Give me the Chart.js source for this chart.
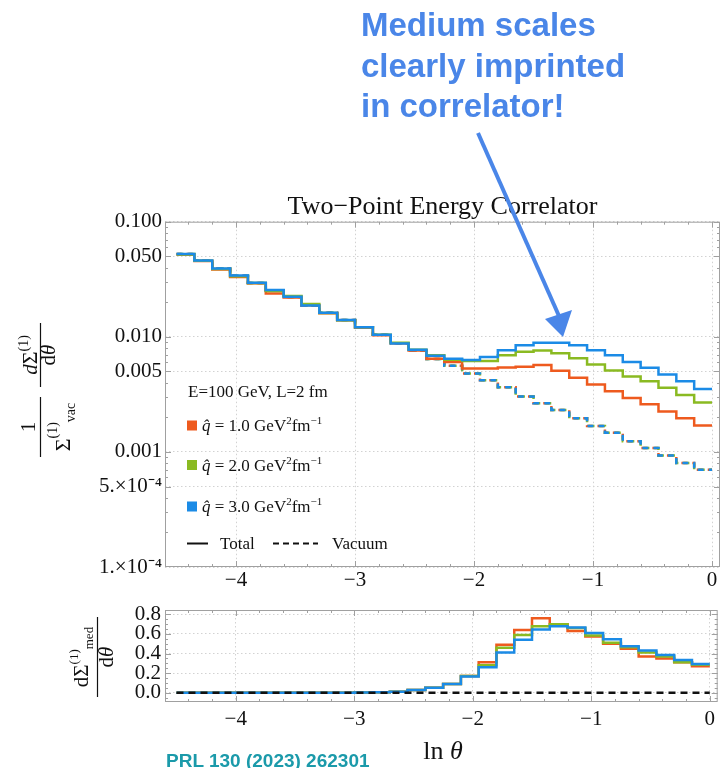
<!DOCTYPE html>
<html>
<head>
<meta charset="utf-8">
<title>Two-Point Energy Correlator</title>
<script src="https://cdn.jsdelivr.net/npm/chart.js@4.4.1/dist/chart.umd.min.js"></script>
<style>
  html, body { margin: 0; padding: 0; background: #fff; }
  #page { position: relative; width: 720px; height: 768px; overflow: hidden; }
  canvas { position: absolute; left: 0; }
  #topChart { top: 0; }
  #bottomChart { top: 590px; }
  #note { position: absolute; left: 361px; top: 5px; margin: 0; font: bold 33px 'Liberation Sans', Arial, sans-serif; line-height: 40.7px; color: #4a86e8; }
  #arrow { position: absolute; left: 0; top: 0; }
  #xTitle { position: absolute; left: 343px; top: 736px; width: 200px; text-align: center; font: 26px 'Liberation Serif', serif; line-height: 30px; color: #111; }
  #cite { position: absolute; left: 166px; top: 751px; font: bold 19px 'Liberation Sans', Arial, sans-serif; line-height: 19px; color: #1b9aaa; white-space: nowrap; }
</style>
</head>
<body>
<div id="page">
  <canvas id="topChart" width="720" height="600"></canvas>
  <canvas id="bottomChart" width="720" height="150"></canvas>
  <div id="note">Medium scales<br>clearly imprinted<br>in correlator!</div>
  <svg id="arrow" width="720" height="400">
    <line x1="478" y1="133" x2="559" y2="316" stroke="#4a86e8" stroke-width="4"/>
    <polygon points="563,337 545,319 572,310" fill="#4a86e8"/>
  </svg>
  <div id="xTitle">ln <i>θ</i></div>
  <div id="cite">PRL 130 (2023) 262301</div>
</div>
<script>
// bin edges in ln(theta), 30 bins of width 0.15
const lnThetaEdges = [-4.5, -4.35, -4.2, -4.05, -3.9, -3.75, -3.6, -3.45, -3.3, -3.15,
	-3.0, -2.85, -2.7, -2.55, -2.4, -2.25, -2.1, -1.95, -1.8, -1.65,
	-1.5, -1.35, -1.2, -1.05, -0.9, -0.75, -0.6, -0.45, -0.3, -0.15, 0];
const qhatLabels = ['1.0', '2.0', '3.0'];

// upper panel: normalised correlator (total, per qhat) and vacuum
const totalQ1 = [0.0515, 0.0455, 0.0385, 0.0330, 0.0292, 0.0238, 0.0220, 0.0188, 0.0160, 0.0139,
	0.0120, 0.0103, 0.0088, 0.0076, 0.00645, 0.00604, 0.00530, 0.00530, 0.00540, 0.00548,
	0.00568, 0.00508, 0.00440, 0.00385, 0.00336, 0.00294, 0.00260, 0.00224, 0.00196, 0.00170];
const totalQ2 = [0.0520, 0.0458, 0.0388, 0.0336, 0.0293, 0.0250, 0.0226, 0.0193, 0.0161, 0.0139,
	0.0121, 0.0104, 0.0089, 0.0077, 0.00690, 0.00632, 0.00616, 0.00616, 0.00690, 0.00740,
	0.00760, 0.00720, 0.00650, 0.00576, 0.00510, 0.00452, 0.00411, 0.00360, 0.00312, 0.00269];
const totalQ3 = [0.0525, 0.0461, 0.0393, 0.0341, 0.0295, 0.0255, 0.0223, 0.0187, 0.0162, 0.0140,
	0.0121, 0.0104, 0.00874, 0.00770, 0.00685, 0.00645, 0.00630, 0.00668, 0.00764, 0.00845,
	0.00886, 0.00890, 0.00845, 0.00764, 0.00690, 0.00604, 0.00538, 0.00471, 0.00411, 0.00352];
const vacuum = [0.0525, 0.0460, 0.0392, 0.0340, 0.0294, 0.0254, 0.0222, 0.0187, 0.0162, 0.0140,
	0.0121, 0.0104, 0.0088, 0.0076, 0.0064, 0.0056, 0.0048, 0.0042, 0.00364, 0.00303,
	0.00265, 0.00231, 0.00196, 0.00168, 0.00147, 0.00124, 0.00108, 0.00093, 0.00080, 0.00070];

// lower panel: medium part
const medQ1 = [0, 0, 0, 0, 0, 0, 0, 0, 0, 0,
	0.002, 0.004, 0.01, 0.028, 0.05, 0.09, 0.17, 0.31, 0.49, 0.64,
	0.76, 0.70, 0.63, 0.575, 0.50, 0.45, 0.37, 0.35, 0.31, 0.27];
const medQ2 = [0, 0, 0, 0, 0, 0, 0, 0, 0, 0,
	0.002, 0.004, 0.01, 0.028, 0.05, 0.09, 0.17, 0.28, 0.46, 0.59,
	0.68, 0.70, 0.66, 0.585, 0.51, 0.465, 0.41, 0.37, 0.31, 0.285];
const medQ3 = [0, 0, 0, 0, 0, 0, 0, 0, 0, 0,
	0.002, 0.004, 0.01, 0.028, 0.05, 0.09, 0.165, 0.26, 0.41, 0.54,
	0.645, 0.68, 0.665, 0.61, 0.545, 0.475, 0.43, 0.385, 0.335, 0.293];
const medVacuum = [0, 0, 0, 0, 0, 0, 0, 0, 0, 0,
	0, 0, 0, 0, 0, 0, 0, 0, 0, 0,
	0, 0, 0, 0, 0, 0, 0, 0, 0, 0];

const xTickValues = [-4, -3, -2, -1, 0];
const topYTickValues = [1e-4, 5e-4, 0.001, 0.005, 0.01, 0.05, 0.1];
const topYTickLabels = ['1.\u00d710\u207b\u2074', '5.\u00d710\u207b\u2074', '0.001', '0.005', '0.010', '0.050', '0.100'];
const bottomYTickValues = [0, 0.2, 0.4, 0.6, 0.8];
const bottomYTickLabels = ['0.0', '0.2', '0.4', '0.6', '0.8'];

const serif = "'Liberation Serif', 'Times New Roman', serif";
const colQ1 = '#ee5a1e';
const colQ2 = '#8aba22';
const colQ3 = '#1b8be6';
const frameColor = '#a0a0a0';
const gridColor = '#d2d2d2';
const textColor = '#111';

function histPoints(values) {
	const pts = values.map((v, i) => ({ x: lnThetaEdges[i], y: v }));
	pts.push({ x: lnThetaEdges[values.length], y: values[values.length - 1] });
	return pts;
}

function histLine(values, color, dash = [], dashOffset = 0) {
	return {
		data: histPoints(values),
		borderColor: color,
		borderWidth: 2.5,
		stepped: 'before',
		pointRadius: 0,
		fill: false,
		borderDash: dash,
		borderDashOffset: dashOffset,
	};
}

// small inward tick marks, like the original frame
const xMinorTicks = [];
for (let k = -22; k <= 0; k++) xMinorTicks.push({ v: k / 5, major: k % 5 === 0 });
const topYMinorTicks = [{ v: 0.1, major: true }];
for (let e = -4; e <= -2; e++) {
	for (let m = 1; m <= 9; m++) topYMinorTicks.push({ v: m * Math.pow(10, e), major: m === 1 || m === 5 });
}
const bottomYMinorTicks = [];
for (let k = -1; k <= 16; k++) bottomYMinorTicks.push({ v: k * 0.05, major: k % 4 === 0 });

function drawFrame(chart, xMarks, yMarks) {
	const { ctx, chartArea: a, scales } = chart;
	ctx.save();
	ctx.strokeStyle = frameColor;
	ctx.lineWidth = 1;
	ctx.strokeRect(a.left + 0.5, a.top + 0.5, a.right - a.left - 1, a.bottom - a.top - 1);
	ctx.beginPath();
	xMarks.forEach((t) => {
		const px = Math.round(scales.x.getPixelForValue(t.v)) + 0.5;
		const len = t.major ? 6 : 3;
		ctx.moveTo(px, a.bottom); ctx.lineTo(px, a.bottom - len);
		ctx.moveTo(px, a.top); ctx.lineTo(px, a.top + len);
	});
	yMarks.forEach((t) => {
		const py = Math.round(scales.y.getPixelForValue(t.v)) + 0.5;
		if (py < a.top || py > a.bottom) return;
		const len = t.major ? 6 : 3;
		ctx.moveTo(a.left, py); ctx.lineTo(a.left + len, py);
		ctx.moveTo(a.right, py); ctx.lineTo(a.right - len, py);
	});
	ctx.stroke();
	ctx.restore();
}

function drawRuns(ctx, x, y, runs) {
	runs.forEach((r) => {
		ctx.font = r.font;
		ctx.fillText(r.text, x, y + (r.dy || 0));
		x += ctx.measureText(r.text).width;
	});
	return x;
}

function centeredRuns(ctx, u, v, runs) {
	let w = 0;
	runs.forEach((r) => { ctx.font = r.font; w += ctx.measureText(r.text).width; });
	drawRuns(ctx, u - w / 2, v, runs);
}

function drawLegend(ctx, a) {
	const x0 = a.left + 22;
	ctx.save();
	ctx.textAlign = 'left';
	ctx.textBaseline = 'alphabetic';
	ctx.fillStyle = textColor;
	ctx.font = `17px ${serif}`;
	ctx.fillText('E=100 GeV, L=2 fm', x0 + 1, 397);

	const rowsY = [425.5, 465, 506.5];
	[colQ1, colQ2, colQ3].forEach((c, i) => {
		ctx.fillStyle = c;
		ctx.fillRect(x0, rowsY[i] - 5, 10, 10);
		ctx.fillStyle = textColor;
		drawRuns(ctx, x0 + 15, rowsY[i] + 5.5, [
			{ text: 'q\u0302', font: `italic 17px ${serif}` },
			{ text: ` = ${qhatLabels[i]} GeV`, font: `17px ${serif}` },
			{ text: '2', font: `11px ${serif}`, dy: -7 },
			{ text: 'fm', font: `17px ${serif}` },
			{ text: '\u22121', font: `11px ${serif}`, dy: -7 },
		]);
	});

	const ty = 543.5;
	ctx.strokeStyle = textColor;
	ctx.lineWidth = 2;
	ctx.beginPath(); ctx.moveTo(x0, ty); ctx.lineTo(x0 + 21, ty); ctx.stroke();
	ctx.setLineDash([6, 4]);
	ctx.beginPath(); ctx.moveTo(x0 + 86, ty); ctx.lineTo(x0 + 131, ty); ctx.stroke();
	ctx.setLineDash([]);
	ctx.font = `17px ${serif}`;
	ctx.fillText('Total', x0 + 33, ty + 5.5);
	ctx.fillText('Vacuum', x0 + 145, ty + 5.5);
	ctx.restore();
}

function drawTopYTitle(ctx) {
	ctx.save();
	ctx.translate(40, 390);
	ctx.rotate(-Math.PI / 2);
	ctx.fillStyle = textColor;
	ctx.strokeStyle = textColor;
	ctx.lineWidth = 1.2;
	ctx.textAlign = 'left';
	ctx.textBaseline = 'alphabetic';
	ctx.beginPath();
	ctx.moveTo(-67, 0.5); ctx.lineTo(-7, 0.5);
	ctx.moveTo(3, 0.5); ctx.lineTo(67, 0.5);
	ctx.stroke();
	centeredRuns(ctx, -37, -5, [{ text: '1', font: `21px ${serif}` }]);
	centeredRuns(ctx, -37, 30, [
		{ text: '\u03a3', font: `22px ${serif}` },
		{ text: '(1)', font: `14px ${serif}`, dy: -13 },
		{ text: 'vac', font: `14px ${serif}`, dy: 5 },
	]);
	centeredRuns(ctx, 35, -3, [
		{ text: 'd', font: `italic 21px ${serif}` },
		{ text: '\u03a3', font: `22px ${serif}` },
		{ text: '(1)', font: `14px ${serif}`, dy: -9 },
	]);
	centeredRuns(ctx, 35, 15, [
		{ text: 'd', font: `21px ${serif}` },
		{ text: '\u03b8', font: `italic 21px ${serif}` },
	]);
	ctx.restore();
}

function drawBottomYTitle(ctx) {
	ctx.save();
	ctx.translate(97, 67);
	ctx.rotate(-Math.PI / 2);
	ctx.fillStyle = textColor;
	ctx.strokeStyle = textColor;
	ctx.lineWidth = 1.2;
	ctx.textAlign = 'left';
	ctx.textBaseline = 'alphabetic';
	ctx.beginPath();
	ctx.moveTo(-40, 0.5); ctx.lineTo(40, 0.5);
	ctx.stroke();
	centeredRuns(ctx, 0, -9, [
		{ text: 'd\u03a3', font: `21px ${serif}` },
		{ text: '(1)', font: `13px ${serif}`, dy: -10 },
		{ text: 'med', font: `13px ${serif}`, dy: 5 },
	]);
	centeredRuns(ctx, 0, 16, [
		{ text: 'd', font: `21px ${serif}` },
		{ text: '\u03b8', font: `italic 21px ${serif}` },
	]);
	ctx.restore();
}

const topDecor = {
	id: 'topDecor',
	afterDraw(chart) {
		drawFrame(chart, xMinorTicks, topYMinorTicks);
		drawLegend(chart.ctx, chart.chartArea);
		drawTopYTitle(chart.ctx);
	},
};

const bottomDecor = {
	id: 'bottomDecor',
	afterDraw(chart) {
		drawFrame(chart, xMinorTicks, bottomYMinorTicks);
		drawBottomYTitle(chart.ctx);
	},
};

const tickFont = { family: serif, size: 21 };
const xMin = -4.597;
const xMax = 0.067;

function xScale(height, pad) {
	return {
		type: 'linear',
		min: xMin,
		max: xMax,
		afterFit: (axis) => { axis.height = height; },
		afterBuildTicks: (axis) => { axis.ticks = xTickValues.map((v) => ({ value: v })); },
		ticks: {
			font: tickFont,
			color: textColor,
			padding: pad,
			autoSkip: false,
			maxRotation: 0,
			callback: (v) => (v < 0 ? '\u2212' + Math.abs(v) : String(v)),
		},
		grid: { color: gridColor, drawTicks: false },
		border: { display: false, dash: [1.5, 2.5] },
	};
}

new Chart(document.getElementById('topChart'), {
	type: 'line',
	data: {
		datasets: [
			histLine(totalQ3, colQ3),
			histLine(totalQ2, colQ2),
			histLine(totalQ1, colQ1),
			histLine(vacuum, colQ3, [6, 5], 0),
			histLine(vacuum, colQ2, [6, 5], -1),
			histLine(vacuum, colQ1, [6, 5], 1),
		],
	},
	options: {
		responsive: false,
		animation: false,
		events: [],
		layout: { padding: { top: 194, left: 0, right: 0, bottom: 0 } },
		plugins: {
			legend: { display: false },
			tooltip: { enabled: false },
			title: {
				display: true,
				fullSize: false,
				text: 'Two\u2212Point Energy Correlator',
				color: textColor,
				font: { family: serif, size: 26, weight: 'normal', lineHeight: 1 },
				padding: { top: 0, bottom: 1.7 },
			},
		},
		scales: {
			x: xScale(33, 1),
			y: {
				type: 'logarithmic',
				min: 1e-4,
				max: 0.1,
				afterFit: (axis) => { axis.width = 165; },
				afterBuildTicks: (axis) => { axis.ticks = topYTickValues.map((v) => ({ value: v })); },
				ticks: {
					font: tickFont,
					color: textColor,
					padding: 3,
					autoSkip: false,
					callback: (v, i) => topYTickLabels[i],
				},
				grid: { color: gridColor, drawTicks: false },
				border: { display: false, dash: [1.5, 2.5] },
			},
		},
	},
	plugins: [topDecor],
});

new Chart(document.getElementById('bottomChart'), {
	type: 'line',
	data: {
		datasets: [
			histLine(medVacuum, '#111', [7, 5], 0),
			histLine(medQ3, colQ3),
			histLine(medQ2, colQ2),
			histLine(medQ1, colQ1),
		],
	},
	options: {
		responsive: false,
		animation: false,
		events: [],
		layout: { padding: { top: 20, left: 0, right: 0, bottom: 0 } },
		plugins: {
			legend: { display: false },
			tooltip: { enabled: false },
		},
		scales: {
			x: xScale(38, 5),
			y: {
				type: 'linear',
				min: -0.095,
				max: 0.845,
				afterFit: (axis) => { axis.width = 165; },
				afterBuildTicks: (axis) => { axis.ticks = bottomYTickValues.map((v) => ({ value: v })); },
				ticks: {
					font: tickFont,
					color: textColor,
					padding: 4,
					autoSkip: false,
					callback: (v, i) => bottomYTickLabels[i],
				},
				grid: { color: gridColor, drawTicks: false },
				border: { display: false, dash: [1.5, 2.5] },
			},
		},
	},
	plugins: [bottomDecor],
});
</script>
</body>
</html>
